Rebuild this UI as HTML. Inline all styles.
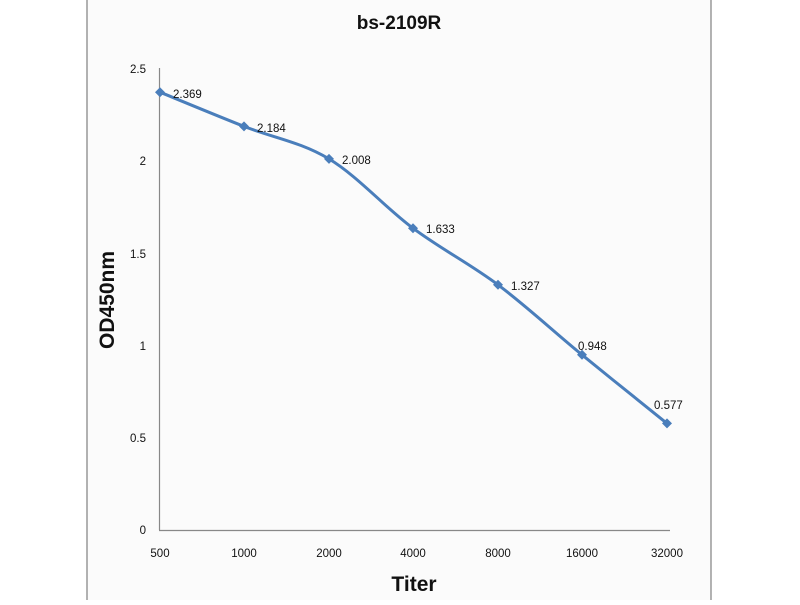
<!DOCTYPE html>
<html><head><style>body{margin:0;background:#fff}</style></head><body>
<svg width="800" height="600" xmlns="http://www.w3.org/2000/svg" font-family="Liberation Sans, sans-serif">
<rect x="0" y="0" width="800" height="600" fill="#fff"/>
<rect x="87" y="-2" width="624" height="604" fill="#fbfbfb" stroke="#808080" stroke-width="1.2"/>
<text x="399" y="29" font-size="19" font-weight="bold" text-anchor="middle" fill="#111">bs-2109R</text>
<line x1="159.5" y1="68" x2="159.5" y2="530" stroke="#888" stroke-width="1.2"/>
<line x1="159" y1="530.5" x2="670" y2="530.5" stroke="#888" stroke-width="1.2"/>
<g font-size="11.5" fill="#111" text-anchor="end">
<text x="146" y="73">2.5</text><text x="146" y="165">2</text><text x="146" y="258">1.5</text>
<text x="146" y="350">1</text><text x="146" y="442">0.5</text><text x="146" y="534">0</text>
</g>
<g font-size="11.5" fill="#111" text-anchor="middle">
<text x="160" y="557">500</text><text x="244" y="557">1000</text><text x="329" y="557">2000</text>
<text x="413" y="557">4000</text><text x="498" y="557">8000</text><text x="582" y="557">16000</text><text x="667" y="557">32000</text>
</g>
<text x="414" y="591" font-size="21" font-weight="bold" text-anchor="middle" fill="#111">Titer</text>
<text transform="translate(114,300) rotate(-90)" font-size="21" font-weight="bold" text-anchor="middle" fill="#111">OD450nm</text>
<path d="M160,92.2 C174,97.9 215.8,115.3 244,126.4 C272.2,137.5 300.8,141.9 329,158.9 C357.2,175.9 384.8,207.2 413,228.2 C441.2,249.2 469.8,263.7 498,284.8 C526.2,305.9 553.8,331.7 582,354.8 C610.2,377.9 652.8,412 667,423.4" fill="none" stroke="#4a7ebb" stroke-width="3"/>
<g fill="#4a7ebb">
<path d="M160,87.2l5,5l-5,5l-5,-5z"/><path d="M244,121.4l5,5l-5,5l-5,-5z"/><path d="M329,153.9l5,5l-5,5l-5,-5z"/>
<path d="M413,223.2l5,5l-5,5l-5,-5z"/><path d="M498,279.8l5,5l-5,5l-5,-5z"/><path d="M582,349.8l5,5l-5,5l-5,-5z"/><path d="M667,418.4l5,5l-5,5l-5,-5z"/>
</g>
<g font-size="11.5" fill="#111">
<text x="173" y="98">2.369</text><text x="257" y="132">2.184</text><text x="342" y="164">2.008</text>
<text x="426" y="233">1.633</text><text x="511" y="290">1.327</text><text x="578" y="350">0.948</text><text x="654" y="409">0.577</text>
</g>
</svg>
</body></html>
